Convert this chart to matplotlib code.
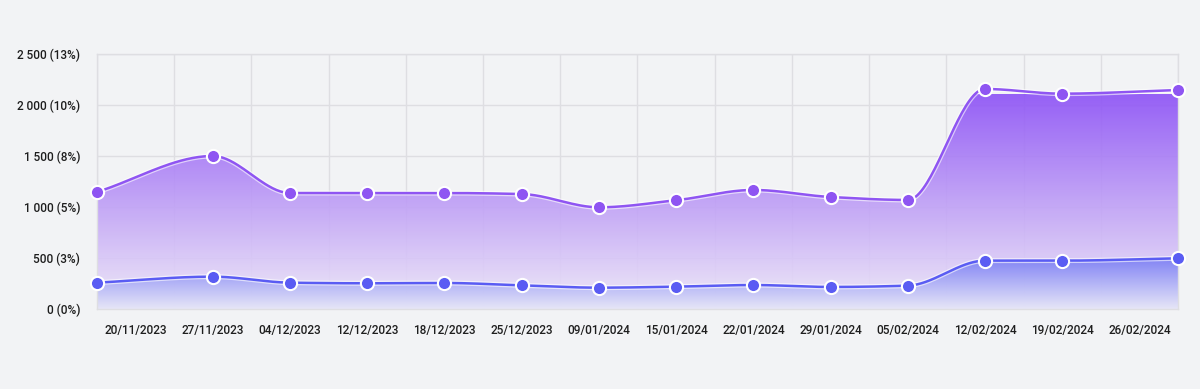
import numpy as np
import matplotlib
matplotlib.use("Agg")
import matplotlib.pyplot as plt
import matplotlib.patheffects as pe
from matplotlib.colors import LinearSegmentedColormap
from matplotlib.patches import Polygon

dates = ['20/11/2023', '27/11/2023', '04/12/2023', '12/12/2023', '18/12/2023',
         '25/12/2023', '09/01/2024', '15/01/2024', '22/01/2024', '29/01/2024',
         '05/02/2024', '12/02/2024', '19/02/2024', '26/02/2024']
total = [1147, 1500, 1137, 1137, 1137, 1127, 997, 1066, 1167, 1098,
         1069, 2157, 2111, 2147]
part = [258, 317, 258, 252, 255, 232, 209, 219, 235, 216,
        229, 474, 474, 497]
y_ticks = [0, 500, 1000, 1500, 2000, 2500]
y_labels = ['0 (0%)', '500 (3%)', '1 000 (5%)', '1 500 (8%)', '2 000 (10%)', '2 500 (13%)']

BG = '#f2f3f5'
PURPLE = '#8f55f2'
BLUE = '#5a5cf3'
GRID = '#dedee2'
plt.rcParams['font.family'] = ['Roboto', 'DejaVu Sans']


def monotone(x, y, num=40):
    # Fritsch-Carlson monotone cubic, only used to draw smooth lines
    x = np.asarray(x, float)
    y = np.asarray(y, float)
    h = np.diff(x)
    d = np.diff(y) / h
    m = np.zeros_like(y)
    m[0], m[-1] = d[0], d[-1]
    for i in range(1, len(y) - 1):
        if d[i - 1] * d[i] <= 0:
            m[i] = 0
        else:
            w1 = 2 * h[i] + h[i - 1]
            w2 = h[i] + 2 * h[i - 1]
            m[i] = (w1 + w2) / (w1 / d[i - 1] + w2 / d[i])
    xs, ys = [], []
    for i in range(len(h)):
        t = np.linspace(0, 1, num, endpoint=(i == len(h) - 1))
        h00 = 2 * t**3 - 3 * t**2 + 1
        h10 = t**3 - 2 * t**2 + t
        h01 = -2 * t**3 + 3 * t**2
        h11 = t**3 - t**2
        xs.append(x[i] + t * h[i])
        ys.append(h00 * y[i] + h10 * h[i] * m[i] + h01 * y[i + 1] + h11 * h[i] * m[i + 1])
    return np.concatenate(xs), np.concatenate(ys)


def gradient_fill(ax, xs, ys, top_color, bottom_color, top, zorder):
    cmap = LinearSegmentedColormap.from_list('g', [bottom_color, top_color])
    grad = np.linspace(0, 1, 256).reshape(-1, 1)
    im = ax.imshow(grad, cmap=cmap, aspect='auto', origin='lower', alpha=0.9,
                   extent=[xs.min(), xs.max(), 0, top], zorder=zorder)
    verts = np.column_stack([np.r_[xs[0], xs, xs[-1]], np.r_[0, ys, 0]])
    poly = Polygon(verts, closed=True, facecolor='none', edgecolor='none')
    ax.add_patch(poly)
    im.set_clip_path(poly)


n = len(dates)
x = np.arange(n, dtype=float)
x[0] -= 0.5
x[-1] += 0.5

fig = plt.figure(figsize=(12, 3.89), dpi=100, facecolor=BG)
ax = fig.add_axes([0.0808, 0.2057, 0.9009, 0.6555])
ax.set_facecolor(BG)
ax.set_axisbelow(True)

glow = [pe.Stroke(linewidth=3.6, foreground='white', alpha=0.6), pe.Normal()]

xs, ys = monotone(x, total)
gradient_fill(ax, xs, ys, '#8c50f5', '#efeaf8', 2100, 1)
ax.plot(xs, ys, color=PURPLE, lw=1.8, zorder=3, path_effects=glow)

xs2, ys2 = monotone(x, part)
gradient_fill(ax, xs2, ys2, '#7175f4', '#e6e6f8', 520, 2)
ax.plot(xs2, ys2, color=BLUE, lw=1.8, zorder=3, path_effects=glow)

ax.plot(x, total, 'o', ms=9.5, color=PURPLE, mec='white', mew=1.5, zorder=5, clip_on=False)
ax.plot(x, part, 'o', ms=9.5, color=BLUE, mec='white', mew=1.5, zorder=5, clip_on=False)

ax.set_xlim(-0.5, n - 0.5)
ax.set_ylim(0, 2500)
ax.set_xticks(np.arange(n))
ax.set_xticklabels(dates, fontsize=8.5, color='#1e1e1e', fontweight='medium')
ax.set_xticks(np.arange(n + 1) - 0.5, minor=True)
ax.set_yticks(y_ticks)
ax.set_yticklabels(y_labels, fontsize=8.5, color='#1e1e1e', fontweight='medium')
ax.tick_params(axis='both', which='both', length=0)
ax.tick_params(axis='x', pad=11)
ax.tick_params(axis='y', pad=12)
ax.grid(True, axis='y', color=GRID, lw=1)
ax.grid(True, axis='x', which='minor', color=GRID, lw=1)
for s in ax.spines.values():
    s.set_color(GRID)
    s.set_linewidth(1)

fig.savefig('out.png', dpi=100, facecolor=BG)
